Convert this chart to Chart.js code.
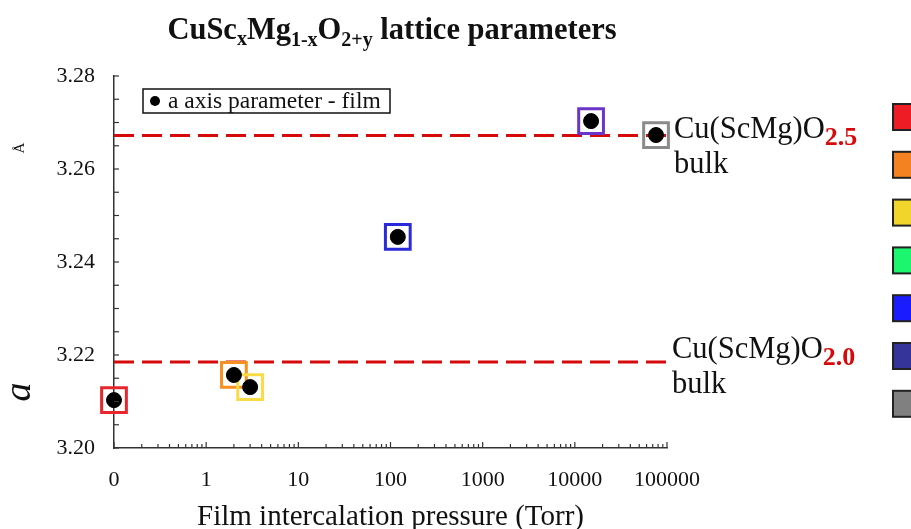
<!DOCTYPE html>
<html>
<head>
<meta charset="utf-8">
<title>CuScMgO lattice parameters</title>
<script src="https://cdn.jsdelivr.net/npm/chart.js@4.4.1/dist/chart.umd.min.js"></script>
<style>
    html, body { margin: 0; padding: 0; background: #fff; overflow: hidden; }
    #wrap { width: 911px; height: 529px; }
</style>
</head>
<body>
<div id="wrap"><canvas id="latticeChart" width="911" height="529"></canvas></div>
<script>
// pressure in Torr (the 0 Torr film sits on the 0.1 axis floor, labelled "0")
const pressures = [0.1, 2, 3, 120, 15000, 76000];
const aParam = [3.2103, 3.2157, 3.2131, 3.2454, 3.2703, 3.2673];
const boxColors = ['#e8262d', '#f7901e', '#f9dc45', '#2a2adb', '#6a35c8', '#8a8a8a'];

// bulk reference values
const bulkLevels = [3.2672, 3.2185];
const bulkSubs = ['2.5', '2.0'];

const xTickValues = [0.1, 1, 10, 100, 1000, 10000, 100000];
const xTickLabels = ['0', '1', '10', '100', '1000', '10000', '100000'];
const sampleColors = ['#ee1c25', '#f58220', '#f2d52a', '#1cf56e', '#1b1bff', '#34349a', '#808080'];

const serif = '"Liberation Serif", "Times New Roman", serif';
const red = '#d60a0a';

const points = pressures.map((p, i) => ({ x: p, y: aParam[i] }));

// draw runs of text with subscripts, left to right
function drawRuns(ctx, runs, x, y) {
    let cx = x;
    runs.forEach(r => {
        ctx.font = r.font;
        ctx.fillStyle = r.color || '#111';
        ctx.fillText(r.t, cx, y + (r.dy || 0));
        cx += ctx.measureText(r.t).width;
    });
}

function runsWidth(ctx, runs) {
    let w = 0;
    runs.forEach(r => { ctx.font = r.font; w += ctx.measureText(r.t).width; });
    return w;
}

const decorPlugin = {
    id: 'decor',
    afterDraw(chart) {
        const ctx = chart.ctx;
        const xs = chart.scales.x;
        const ys = chart.scales.y;
        ctx.save();
        ctx.textBaseline = 'alphabetic';
        ctx.textAlign = 'left';

        // inward tick marks
        ctx.strokeStyle = '#333';
        ctx.lineWidth = 1.2;
        xs.ticks.forEach(t => {
            const px = xs.getPixelForValue(t.value);
            const major = xTickValues.some(v => Math.abs(v - t.value) / v < 1e-6);
            ctx.beginPath();
            ctx.moveTo(px, ys.bottom);
            ctx.lineTo(px, ys.bottom - (major ? 6 : 4));
            ctx.stroke();
        });
        ys.ticks.forEach(t => {
            const py = ys.getPixelForValue(t.value);
            ctx.beginPath();
            ctx.moveTo(xs.left, py);
            ctx.lineTo(xs.left + 5, py);
            ctx.stroke();
        });

        // title with subscripts
        const big = 'bold 30.5px ' + serif;
        const sub = 'bold 20px ' + serif;
        const title = [
            { t: 'CuSc', font: big }, { t: 'x', font: sub, dy: 6 },
            { t: 'Mg', font: big }, { t: '1-x', font: sub, dy: 7 },
            { t: 'O', font: big }, { t: '2+y', font: sub, dy: 7 },
            { t: ' lattice parameters', font: big }
        ];
        const tw = runsWidth(ctx, title);
        drawRuns(ctx, title, 392 - tw / 2, 39);

        // legend box inside plot
        ctx.strokeStyle = '#111';
        ctx.lineWidth = 1.5;
        ctx.strokeRect(143, 89, 247, 24);
        ctx.fillStyle = '#000';
        ctx.beginPath();
        ctx.arc(155, 101, 5, 0, Math.PI * 2);
        ctx.fill();
        ctx.font = '23.5px ' + serif;
        ctx.fillStyle = '#111';
        ctx.fillText('a axis parameter - film', 168, 108);

        // bulk annotations
        const shift = [2, -4];
        bulkLevels.forEach((lvl, i) => {
            const py = ys.getPixelForValue(lvl);
            const x0 = xs.right + 7 - i * 2;
            const base = py + shift[i];
            drawRuns(ctx, [
                { t: 'Cu(ScMg)O', font: '30.5px ' + serif },
                { t: bulkSubs[i], font: 'bold 26px ' + serif, color: red, dy: 7 }
            ], x0, base);
            ctx.font = '30.5px ' + serif;
            ctx.fillStyle = '#111';
            ctx.fillText('bulk', x0, base + 35);
        });

        // y axis title (rotated)
        ctx.save();
        ctx.translate(30, 392);
        ctx.rotate(-Math.PI / 2);
        ctx.font = 'italic 38px ' + serif;
        ctx.fillStyle = '#111';
        ctx.textAlign = 'center';
        ctx.fillText('a', 0, 0);
        ctx.restore();
        ctx.save();
        ctx.translate(24, 148);
        ctx.rotate(-Math.PI / 2);
        ctx.font = '15px ' + serif;
        ctx.fillStyle = '#111';
        ctx.textAlign = 'center';
        ctx.fillText('Å', 0, 0);
        ctx.restore();

        // sample colour key (cut off at the right edge)
        sampleColors.forEach((c, i) => {
            const cy = 117 + i * 47.8;
            ctx.fillStyle = c;
            ctx.fillRect(893, cy - 13, 30, 26);
            ctx.strokeStyle = '#222';
            ctx.lineWidth = 2;
            ctx.strokeRect(893, cy - 13, 30, 26);
        });
        ctx.restore();
    }
};

const ctx = document.getElementById('latticeChart').getContext('2d');
new Chart(ctx, {
    type: 'scatter',
    data: {
        datasets: [
            {
                label: 'a axis parameter - film',
                data: points,
                backgroundColor: '#000',
                borderColor: '#000',
                pointRadius: 7.5,
                pointHoverRadius: 7.5,
                clip: false,
                order: 1
            },
            {
                label: 'sample',
                data: points,
                pointStyle: 'rect',
                backgroundColor: 'rgba(0,0,0,0)',
                borderColor: boxColors,
                borderWidth: 3,
                pointRadius: 17.5,
                pointHoverRadius: 17.5,
                clip: false,
                order: 2
            },
            ...bulkLevels.map(lvl => ({
                type: 'line',
                label: 'bulk',
                data: [{ x: xTickValues[0], y: lvl }, { x: xTickValues[xTickValues.length - 1], y: lvl }],
                borderColor: red,
                borderWidth: 3,
                borderDash: [20, 8],
                pointRadius: 0,
                fill: false,
                clip: false,
                order: 3
            }))
        ]
    },
    options: {
        responsive: false,
        animation: false,
        layout: { padding: { top: 76, right: 244, left: 0, bottom: 0 } },
        plugins: {
            legend: { display: false },
            tooltip: { enabled: false }
        },
        scales: {
            x: {
                type: 'logarithmic',
                min: 0.1,
                max: 100000,
                afterFit: s => { s.height = 81; },
                afterBuildTicks: s => {
                    const list = [];
                    for (let d = -1; d <= 4; d++) {
                        for (let k = 1; k <= 9; k++) list.push({ value: k * Math.pow(10, d) });
                    }
                    list.push({ value: 100000 });
                    s.ticks = list;
                },
                grid: { display: false },
                border: { display: true, color: '#333', width: 1.5 },
                ticks: {
                    autoSkip: false,
                    maxRotation: 0,
                    padding: 11,
                    color: '#111',
                    font: { family: serif, size: 22 },
                    callback: value => {
                        const i = xTickValues.findIndex(v => Math.abs(v - value) / v < 1e-6);
                        return i >= 0 ? xTickLabels[i] : '';
                    }
                },
                title: {
                    display: true,
                    text: 'Film intercalation pressure (Torr)',
                    color: '#111',
                    font: { family: serif, size: 29, lineHeight: 0.8 },
                    padding: { top: 0, bottom: 0 }
                }
            },
            y: {
                min: 3.20,
                max: 3.28,
                afterFit: s => { s.width = 114; },
                grid: { display: false },
                border: { display: true, color: '#333', width: 1.5 },
                ticks: {
                    stepSize: 0.005,
                    autoSkip: false,
                    padding: 11,
                    color: '#111',
                    font: { family: serif, size: 22 },
                    callback: value => Math.round(value * 1000) % 20 === 0 ? value.toFixed(2) : ''
                }
            }
        }
    },
    plugins: [decorPlugin]
});
</script>
</body>
</html>
